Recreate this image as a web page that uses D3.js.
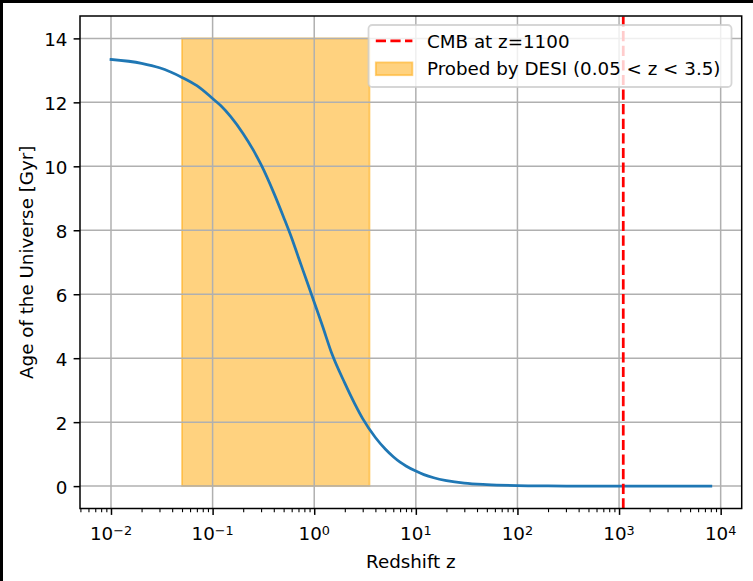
<!DOCTYPE html>
<html><head><meta charset="utf-8">
<script src="https://cdn.jsdelivr.net/npm/d3@7"></script>
<style>
body{margin:0;background:#fff}
svg{display:block}
text{font-family:"DejaVu Sans",sans-serif;fill:#000}
</style></head>
<body>
<svg id="c" width="753" height="581"></svg>
<script>
// ---- data ----
const redshift = [0.01, 0.02, 0.03, 0.05, 0.07, 0.1, 0.12, 0.15, 0.2, 0.25, 0.3, 0.4, 0.5, 0.6, 0.7, 0.85, 1.0, 1.2, 1.5, 2.0, 2.5, 3.0, 4.0, 5.0, 6.0, 7.0, 8.0, 10, 12, 15, 20, 30, 50, 100, 200, 500, 1000, 8000];
const ageGyr   = [13.34, 13.22, 13.08, 12.78, 12.52, 12.12, 11.9, 11.56, 11.02, 10.52, 10.05, 9.17, 8.41, 7.76, 7.15, 6.39, 5.75, 5.03, 4.12, 3.22, 2.58, 2.11, 1.52, 1.16, 0.92, 0.75, 0.63, 0.47, 0.36, 0.26, 0.17, 0.09, 0.045, 0.016, 0.006, 0.0015, 0.0006, 0.00003];
const xMajorExponents = [-2, -1, 0, 1, 2, 3, 4];
const yTickValues = [0, 2, 4, 6, 8, 10, 12, 14];
const cmbRedshift = 1100;
const desiRange = [0.05, 3.5];
const desiAgeTop = 14;
const xAxisLabel = "Redshift z";
const yAxisLabel = "Age of the Universe [Gyr]";
const legendLabels = ["CMB at z=1100", "Probed by DESI (0.05 < z < 3.5)"];

// ---- layout ----
const svg = d3.select("#c");
const L = 80, R = 741.7, T = 16, B = 508.5;
const FS = 18.3;
const x = d3.scaleLog().domain([Math.pow(10, -2.305), Math.pow(10, 4.207)]).range([L, R]);
const y = d3.scaleLinear().domain([-0.7, 14.7]).range([B, T]);

// black borders of the screenshot
svg.append("rect").attr("x",0).attr("y",0).attr("width",753).attr("height",3).attr("fill","#000");
svg.append("rect").attr("x",0).attr("y",0).attr("width",3).attr("height",581).attr("fill","#000");

svg.append("defs").append("clipPath").attr("id","clip")
  .append("rect").attr("x",L).attr("y",T).attr("width",R-L).attr("height",B-T);

const plot = svg.append("g").attr("clip-path","url(#clip)");

// DESI band
plot.append("rect")
  .attr("x", x(desiRange[0])).attr("width", x(desiRange[1]) - x(desiRange[0]))
  .attr("y", y(desiAgeTop)).attr("height", y(0) - y(desiAgeTop))
  .attr("fill","orange").attr("fill-opacity",0.5)
  .attr("stroke","orange").attr("stroke-opacity",0.5).attr("stroke-width",1.8);

// grid
const majors = xMajorExponents.map(e => Math.pow(10, e));
plot.selectAll("line.gx").data(majors).enter().append("line")
  .attr("x1", d => x(d)).attr("x2", d => x(d)).attr("y1", T).attr("y2", B)
  .attr("stroke","#b0b0b0").attr("stroke-width",1.5);
plot.selectAll("line.gy").data(yTickValues).enter().append("line")
  .attr("x1", L).attr("x2", R).attr("y1", d => y(d)).attr("y2", d => y(d))
  .attr("stroke","#b0b0b0").attr("stroke-width",1.5);

// age curve
const pts = redshift.map((z, i) => [z, ageGyr[i]]);
plot.append("path").datum(pts)
  .attr("d", d3.line().x(d => x(d[0])).y(d => y(d[1])).curve(d3.curveMonotoneX))
  .attr("fill","none").attr("stroke","#1f77b4").attr("stroke-width",2.75)
  .attr("stroke-linecap","square");

// CMB line (drawn bottom to top like axvline)
plot.append("line")
  .attr("x1", x(cmbRedshift)).attr("x2", x(cmbRedshift)).attr("y1", B).attr("y2", T)
  .attr("stroke","red").attr("stroke-width",2.75).attr("stroke-dasharray","10.2,4.4");

// x axis ticks
const dom = x.domain();
const minors = [];
for (let e = -3; e <= 4; e++) for (let s = 2; s <= 9; s++) {
  const v = s * Math.pow(10, e);
  if (v >= dom[0] && v <= dom[1]) minors.push(v);
}
const gxMin = svg.append("g").attr("transform",`translate(0,${B})`)
  .call(d3.axisBottom(x).tickValues(minors).tickSize(3.7).tickSizeOuter(0).tickFormat(() => ""));
gxMin.select(".domain").remove();
gxMin.selectAll(".tick line").attr("stroke","#000").attr("stroke-width",1.1);

const gx = svg.append("g").attr("transform",`translate(0,${B})`)
  .call(d3.axisBottom(x).tickValues(majors).tickSize(6.4).tickSizeOuter(0).tickFormat(() => ""));
gx.select(".domain").remove();
gx.selectAll(".tick line").attr("stroke","#000").attr("stroke-width",1.5);
gx.selectAll(".tick text").remove();

xMajorExponents.forEach(e => {
  const t = svg.append("text").attr("x", x(Math.pow(10, e))).attr("y", 540)
    .attr("text-anchor","middle").attr("font-size", FS);
  t.append("tspan").text("10");
  t.append("tspan").attr("dy", -5.5).attr("font-size", 12.8)
    .text(e < 0 ? "\u2212" + Math.abs(e) : String(e));
});

// y axis
const gy = svg.append("g").attr("transform",`translate(${L},0)`)
  .call(d3.axisLeft(y).tickValues(yTickValues).tickSize(6.4).tickPadding(6.2).tickSizeOuter(0).tickFormat(d3.format("d")));
gy.select(".domain").remove();
gy.selectAll(".tick line").attr("stroke","#000").attr("stroke-width",1.5);
gy.selectAll(".tick text").attr("font-size", FS).attr("dy","0.38em")
  .attr("font-family",'"DejaVu Sans",sans-serif').attr("fill","#000");

// spines
svg.append("rect").attr("x",L).attr("y",T).attr("width",R-L).attr("height",B-T)
  .attr("fill","none").attr("stroke","#000").attr("stroke-width",1.5);

// axis labels
svg.append("text").attr("x",(L+R)/2).attr("y",567.5).attr("text-anchor","middle")
  .attr("font-size",FS).text(xAxisLabel);
svg.append("text").attr("transform",`translate(32.5,${(T+B)/2}) rotate(-90)`)
  .attr("text-anchor","middle").attr("font-size",FS).text(yAxisLabel);

// legend
const lg = svg.append("g");
lg.append("rect").attr("x",368.5).attr("y",25).attr("width",363).attr("height",62)
  .attr("rx",3.7).attr("ry",3.7)
  .attr("fill","#fff").attr("fill-opacity",0.8)
  .attr("stroke","#cccccc").attr("stroke-opacity",0.8).attr("stroke-width",1.8);
lg.append("line").attr("x1",375.8).attr("x2",412.4).attr("y1",40.8).attr("y2",40.8)
  .attr("stroke","red").attr("stroke-width",2.75).attr("stroke-dasharray","10.2,4.4");
lg.append("rect").attr("x",375.8).attr("y",62.4).attr("width",36.6).attr("height",12.8)
  .attr("fill","orange").attr("fill-opacity",0.5)
  .attr("stroke","orange").attr("stroke-opacity",0.5).attr("stroke-width",1.8);
lg.append("text").attr("x",427).attr("y",48.3).attr("font-size",FS).text(legendLabels[0]);
lg.append("text").attr("x",427).attr("y",75.3).attr("font-size",FS).text(legendLabels[1]);
</script>
</body></html>
